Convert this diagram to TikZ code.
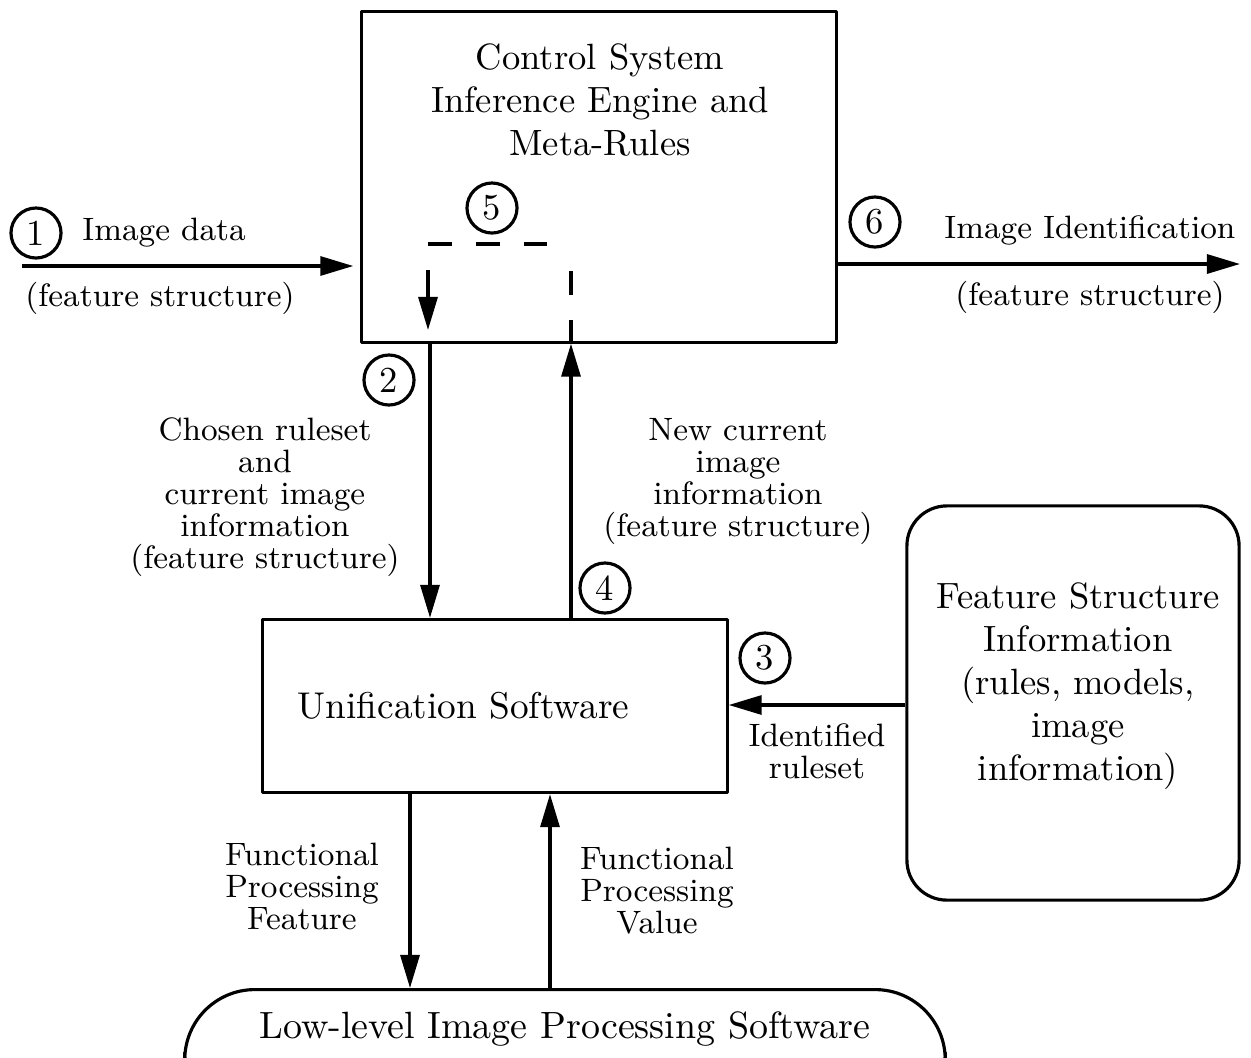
\documentclass[tikz,border=0pt]{standalone}
\usetikzlibrary{arrows.meta,positioning}

\begin{document}
\begin{tikzpicture}[x=0.01cm, y=-0.01cm, line width=0.9pt, line join=round,
    >={Triangle[length=3.3mm,width=1.9mm]},
    box/.style={draw, rectangle},
    rbox/.style={draw, rectangle, rounded corners=0.4cm},
    numc/.style={draw, circle, minimum size=0.5cm, inner sep=0pt, font=\fontsize{10.4}{12}\selectfont},
    big/.style={align=center, font=\fontsize{10.4}{12.1}\selectfont},
    small/.style={align=center, font=\fontsize{9.2}{9.1}\selectfont}]
    \useasboundingbox (0,0) rectangle (1251,1057);
    \clip (0,0) rectangle (1251,1057);

    % boxes
    \node[box, minimum width=4.74cm, minimum height=3.3cm] (ctrl) at (599,177) {};
    \node[big] (ctrltxt) at (600,100) {Control System\\Inference Engine and\\Meta-Rules};
    \node[box, minimum width=4.64cm, minimum height=1.73cm, inner xsep=0.35cm, text width=3.94cm, align=left, font=\fontsize{10.6}{12.1}\selectfont] (unif) at (495,706) {Unification Software};
    \node[rbox, minimum width=3.32cm, minimum height=3.94cm] (feat) at (1073,703) {};
    \node[big, font=\fontsize{10.4}{12.2}\selectfont] (feattxt) at (1078,686) {Feature Structure\\Information\\(rules, models,\\image\\information)};
    \node[rbox, rounded corners=0.7cm, minimum width=7.6cm, anchor=north, text height=10pt, text depth=20pt, inner ysep=3.9pt, font=\fontsize{10.8}{12.1}\selectfont] (low) at (565,988) {Low-level Image Processing Software};

    % numbers
    \node[numc] (n1) at (36,233) {1};
    \node[numc] (n2) at (389,380) {2};
    \node[numc] (n3) at (765,658) {3};
    \node[numc] (n4) at (605,588) {4};
    \node[numc] (n5) at (492,208) {5};
    \node[numc] (n6) at (875,222) {6};

    % connectors
    \coordinate (src1) at (22,266);
    \coordinate (dst6) at (1240,264);
    \coordinate (c2) at (430,0);
    \coordinate (c4) at (571,0);
    \coordinate (c3) at (0,705);
    \coordinate (cf) at (410,0);
    \coordinate (cv) at (550,0);
    \draw [->, shorten >=0.07cm] (src1) -- (src1 -| ctrl.west);
    \draw [->] (dst6 -| ctrl.east) -- (dst6);
    \draw [->] (c2 |- ctrl.south) -- (c2 |- unif.north);
    \draw [->] (c4 |- unif.north) -- (c4 |- ctrl.south);
    \draw [dash pattern=on 0.24cm off 0.25cm] (c4 |- ctrl.south) -- (571,265);
    \draw [dash pattern=on 0.24cm off 0.24cm] (428,244) -- (547,244);
    \draw [->] (428,270) -- (428,330);
    \draw [->] (feat.west |- c3) -- (unif.east |- c3);
    \draw [->] (cf |- unif.south) -- (cf |- low.north);
    \draw [->] (cv |- low.north) -- (cv |- unif.south);

    % labels
    \node[small, anchor=west] (l1) at (69,233) {Image data};
    \node[small] (l1b) at (160,298) {(feature structure)};
    \node[small, anchor=west] (l6) at (931,230) {Image\ Identification};
    \node[small] (l6b) at (1090,297) {(feature structure)};
    \node[small] (l2) at (265,497) {Chosen ruleset\\and\\current image\\information\\(feature structure)};
    \node[small] (l4) at (738,481) {New current\\image\\information\\(feature structure)};
    \node[small] (l3) at (817,751) {Identified\\ruleset};
    \node[small] (lf) at (302,886) {Functional\\Processing\\Feature};
    \node[small] (lv) at (657,891) {Functional\\Processing\\Value};
\end{tikzpicture}
\end{document}
